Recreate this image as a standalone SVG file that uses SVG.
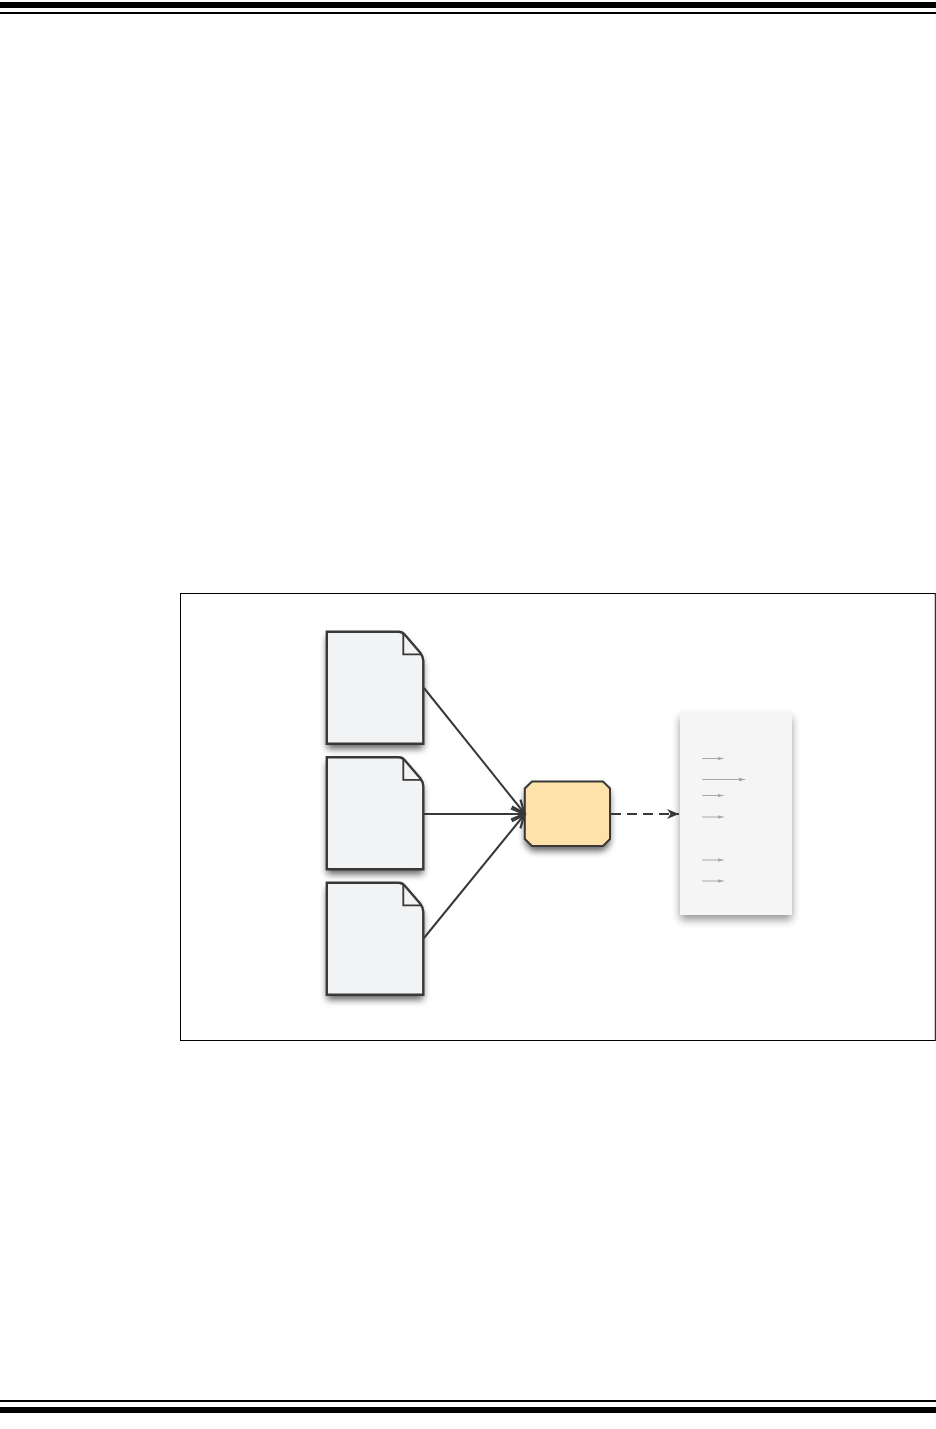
<svg xmlns="http://www.w3.org/2000/svg" width="936" height="1429" viewBox="0 0 936 1429">
<defs>
<filter id="sh" x="-20%" y="-20%" width="140%" height="140%"><feGaussianBlur stdDeviation="3.500"/></filter>
<filter id="shl" x="-20%" y="-20%" width="140%" height="140%"><feGaussianBlur stdDeviation="4.500"/></filter>
<marker id="open" markerUnits="userSpaceOnUse" markerWidth="18" markerHeight="16" refX="15" refY="8" orient="auto"><path d="M1 2.500 L14 8 L1 13.500" fill="none" stroke="#383838" stroke-width="2.200"/></marker>
<marker id="solid" markerUnits="userSpaceOnUse" markerWidth="14" markerHeight="12" refX="12" refY="6" orient="auto"><path d="M0 1 L12 6 L0 11 L3.500 6 Z" fill="#383838"/></marker>
<marker id="tiny" markerUnits="userSpaceOnUse" markerWidth="7" markerHeight="6" refX="6" refY="3" orient="auto"><path d="M0 1 L6 3 L0 5 Z" fill="#a8a8a8"/></marker>
<path id="docshape" d="M0 0 H72 Q75.500 0 78 3 L93.500 21 Q96.500 25 96.500 29 V112 H0 Z"/>
</defs>
<style>
.doc{fill:#f2f3f5;stroke:#383838;stroke-width:2.400}
.fold{fill:none;stroke:#383838;stroke-width:1.800}
.shadow{fill:#000;opacity:.62}
.conn{fill:none;stroke:#383838;stroke-width:2}
.mini{fill:none;stroke:#a8a8a8;stroke-width:1;marker-end:url(#tiny)}
.bar{fill:#000}
</style>
<rect width="936" height="1429" fill="#fff"/>
<g id="header-rule"><rect class="bar" x="0" y="2" width="936" height="6"/><rect class="bar" x="0" y="12" width="936" height="2"/></g>
<g id="footer-rule"><rect class="bar" x="0" y="1400" width="936" height="2"/><rect class="bar" x="0" y="1407" width="936" height="6"/></g>
<rect id="frame" x="180.500" y="593.500" width="754.800" height="447" fill="none" stroke="#000" stroke-width="1"/>
<g id="doc-1" transform="translate(326.800 631.800)">
<use href="#docshape" class="shadow" filter="url(#sh)" transform="translate(0 5)"/>
<use href="#docshape" class="doc"/>
<path class="fold" d="M76.500 2 V22.500 H95"/>
</g>
<g id="doc-2" transform="translate(326.800 757.300)">
<use href="#docshape" class="shadow" filter="url(#sh)" transform="translate(0 5)"/>
<use href="#docshape" class="doc"/>
<path class="fold" d="M76.500 2 V22.500 H95"/>
</g>
<g id="doc-3" transform="translate(326.800 882.800)">
<use href="#docshape" class="shadow" filter="url(#sh)" transform="translate(0 5)"/>
<use href="#docshape" class="doc"/>
<path class="fold" d="M76.500 2 V22.500 H95"/>
</g>
<g id="process">
<path class="shadow" filter="url(#sh)" transform="translate(0 5)" d="M532 781 H603 L610 788 V839 L603 846 H532 L525 839 V788 Z"/>
<path d="M532 781.500 H603 L610 788.500 V839 L603 846 H532 L524.800 839 V788.500 Z" fill="#fee2a9" stroke="#383838" stroke-width="2"/>
</g>
<g id="output">
<rect x="680" y="712" width="112" height="203" fill="#000" opacity=".4" filter="url(#shl)" transform="translate(0 5)"/>
<rect x="680" y="712" width="112" height="203" fill="#f5f5f5"/>
</g>
<g id="connectors">
<path class="conn" marker-end="url(#open)" d="M424 688 L525 814"/>
<path class="conn" marker-end="url(#open)" d="M424 814 H525"/>
<path class="conn" marker-end="url(#open)" d="M424 938 L525 814"/>
<path class="conn" stroke-dasharray="10 6" marker-end="url(#solid)" d="M611 814 H679"/>
<path class="mini" d="M702 758.500 H723.500"/>
<path class="mini" d="M702 779.500 H745"/>
<path class="mini" d="M702 795.500 H723.500"/>
<path class="mini" d="M702 817 H723.500"/>
<path class="mini" d="M702 860 H723.500"/>
<path class="mini" d="M702 881 H723.500"/>
</g>
</svg>
